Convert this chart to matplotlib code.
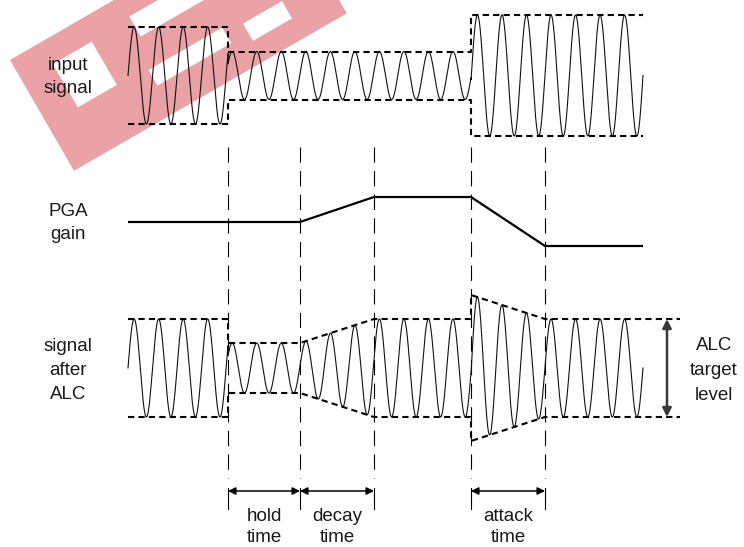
import numpy as np
import matplotlib
matplotlib.use("Agg")
import matplotlib.pyplot as plt
from matplotlib.patches import Polygon

plt.rcParams['lines.scale_dashes'] = False
plt.rcParams['font.family'] = ['Liberation Sans', 'DejaVu Sans']

# ---- data (diagram units = pixels of the reference) ----
t_start, t_end = 128, 643
event_x = [228, 300, 374, 471, 545]          # hold start, decay start, decay end, attack start, attack end
n_cycles = 21

input_center = 75.5
input_seg_x = [128, 228, 471, 643]           # segment boundaries
input_amp = [48.5, 24, 60.5]                 # amplitude of each segment

pga_x = [128, 300, 374, 471, 545, 643]
pga_y = [222, 222, 197, 197, 246, 246]

alc_center = 368
alc_x = [128, 228, 228, 300, 374, 471, 471, 545, 643]
alc_amp = [49, 49, 25, 25, 49, 49, 73, 49, 49]
alc_env_end = 680

left_labels = [("input", "signal"), ("PGA", "gain"), ("signal", "after", "ALC")]
left_baselines = [(70, 93), (216, 239), (351, 375, 399)]
right_label = ("ALC", "target", "level")
right_baselines = (350, 375, 400)
interval_labels = [("hold", "time"), ("decay", "time"), ("attack", "time")]
interval_pairs = [(0, 1), (1, 2), (3, 4)]

W, H = 744, 547
fig = plt.figure(figsize=(W / 100, H / 100), dpi=100)
ax = fig.add_axes([0, 0, 1, 1])
ax.set_xlim(0, W)
ax.set_ylim(H, 0)
ax.axis('off')

# ---- watermark (approximate) ----
pink = '#eaa2a6'
th = np.deg2rad(30)
ox, oy = 10, 60
def loc(u, v):
    return (ox + u * np.cos(th) + v * np.sin(th), oy - u * np.sin(th) + v * np.cos(th))
def rect(u0, u1, v0, v1, color, z):
    pts = [loc(u0, v0), loc(u1, v0), loc(u1, v1), loc(u0, v1)]
    ax.add_patch(Polygon(pts, closed=True, facecolor=color, edgecolor='none', zorder=z))
rect(0, 315, 0, 128, pink, 0)
rect(35, 80, 25, 75, 'white', 0.5)
rect(125, 200, 22, 45, 'white', 0.5)
rect(115, 200, 78, 96, 'white', 0.5)
rect(220, 265, 85, 105, 'white', 0.5)

# ---- sine signals ----
P = (t_end - t_start) / n_cycles
x = np.linspace(t_start, t_end, 4000)
s = np.sin(2 * np.pi * (x - t_start) / P)
amp_in = np.select([x < input_seg_x[1], x < input_seg_x[2]], input_amp[:2], input_amp[2])
ax.plot(x, input_center - amp_in * s, color='#111111', lw=0.8, zorder=3)

# ALC amplitude: piecewise linear (with jumps)
amp_alc = np.empty_like(x)
for i in range(len(alc_x) - 1):
    x0, x1 = alc_x[i], alc_x[i + 1]
    if x1 == x0:
        continue
    m = (x >= x0) & (x <= x1)
    amp_alc[m] = np.interp(x[m], [x0, x1], [alc_amp[i], alc_amp[i + 1]])
ax.plot(x, alc_center - amp_alc * s, color='#111111', lw=0.8, zorder=3)

# ---- envelopes ----
env_kw = dict(color='black', lw=1.5, dashes=(4.5, 3), zorder=4)
ix, iy_top, iy_bot = [], [], []
for i, a in enumerate(input_amp):
    ix += [input_seg_x[i], input_seg_x[i + 1]]
    iy_top += [input_center - a] * 2
    iy_bot += [input_center + a] * 2
ax.plot(ix, iy_top, **env_kw)
ax.plot(ix, iy_bot, **env_kw)

ex = alc_x[:-1] + [alc_env_end]
ax.plot(ex, [alc_center - a for a in alc_amp], **env_kw)
ax.plot(ex, [alc_center + a for a in alc_amp], **env_kw)

# ---- PGA gain ----
ax.plot(pga_x, pga_y, color='black', lw=1.6, zorder=4, solid_capstyle='butt')

# ---- guide lines ----
for gx in event_x:
    ax.plot([gx, gx], [147, 478], color='black', lw=0.8, dashes=(11, 6), zorder=2)
    ax.plot([gx, gx], [488, 509], color='black', lw=0.8, zorder=2)

# ---- interval arrows ----
for (a, b), lab in zip(interval_pairs, interval_labels):
    xa, xb = event_x[a], event_x[b]
    ax.annotate('', xy=(xa, 491), xytext=(xb, 491),
                arrowprops=dict(arrowstyle='<|-|>', color='black', lw=1.1,
                                mutation_scale=11, shrinkA=0, shrinkB=0))
    xc = (xa + xb) / 2
    ax.text(xc, 521, lab[0], ha='center', va='baseline', fontsize=13.5, color='#1a1a1a')
    ax.text(xc, 542, lab[1], ha='center', va='baseline', fontsize=13.5, color='#1a1a1a')

# ---- ALC target arrow ----
ax.annotate('', xy=(667, alc_center - 49), xytext=(667, alc_center + 49),
            arrowprops=dict(arrowstyle='<|-|>', color='#3a3a3a', lw=1.8,
                            mutation_scale=13, shrinkA=0, shrinkB=0), zorder=5)

# ---- labels ----
for lines, bases in zip(left_labels, left_baselines):
    for t, b in zip(lines, bases):
        ax.text(68, b, t, ha='center', va='baseline', fontsize=13.5, color='#1a1a1a', zorder=6)
for t, b in zip(right_label, right_baselines):
    ax.text(714, b, t, ha='center', va='baseline', fontsize=13.5, color='#1a1a1a', zorder=6)

fig.savefig('out.png', dpi=100)
